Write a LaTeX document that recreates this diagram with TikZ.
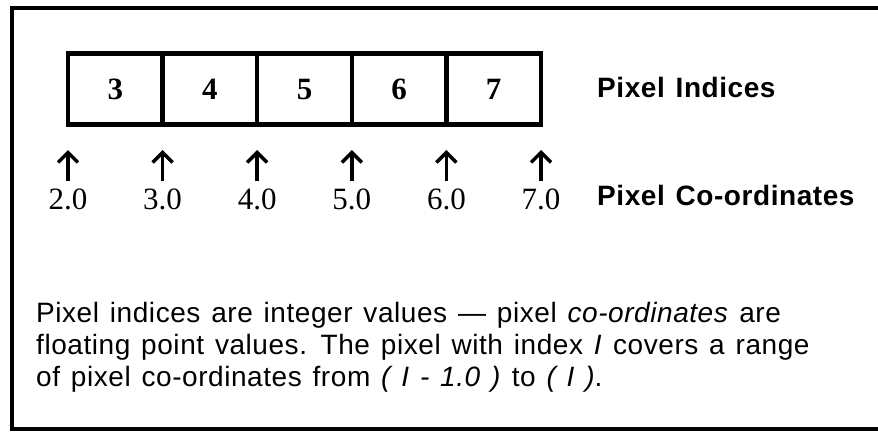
\documentclass[tikz,border=0pt]{standalone}
\usepackage{fontspec}
\setmainfont{Liberation Serif}
\setsansfont{Liberation Sans}
\newfontfamily\widesans{Liberation Sans}[LetterSpace=2,WordSpace=1.3]
\usetikzlibrary{arrows.meta}
\tikzset{
  frame/.style={line width=4pt},
  cellbox/.style={draw, line width=4.5pt, minimum width=94.6pt, minimum height=71pt,
    inner sep=0pt, font=\fontsize{31}{31}\selectfont\bfseries},
  tick/.style={line width=3.5pt, -{Straight Barb[length=10pt,width=20pt,line width=3.5pt]}},
  coordlabel/.style={font=\fontsize{31}{31}\selectfont, anchor=base},
  heading/.style={font=\widesans\bfseries\fontsize{28}{28}\selectfont, anchor=base west, inner sep=0pt},
  bodytext/.style={font=\widesans\fontsize{28}{28}\selectfont, anchor=base west, inner sep=0pt}
}
\begin{document}
\begin{tikzpicture}[x=1pt,y=-1pt]
  \useasboundingbox (0,0) rectangle (878,432);
  % outer frame, open on the right
  \draw[frame] (882,8) -- (12,8) -- (12,429) -- (882,429);

  % the row of pixel cells
  \foreach \i/\v in {0/3,1/4,2/5,3/6,4/7}{
    \node[cellbox] (c\i) at ({68+94.6*\i+47.3},89) {\v};
  }

  % coordinate arrows under the cell edges
  \foreach \i/\v in {0/2.0,1/3.0,2/4.0,3/5.0,4/6.0,5/7.0}{
    \coordinate (t\i) at ({68+94.6*\i},150);
    \coordinate (b\i) at ({68+94.6*\i},181);
    \draw[tick] (b\i) -- (t\i);
    \node[coordlabel] (l\i) at ({68+94.6*\i},209) {\v};
  }

  \node[heading] (hi) at (597,97) {Pixel Indices};
  \node[heading] (hc) at (597,205) {Pixel Co-ordinates};

  \node[bodytext] (p1) at (36,322) {Pixel indices are integer values — pixel \textit{co-ordinates} are};
  \node[bodytext] (p2) at (36,354) {floating point values. The pixel with index \textit{I} covers a range};
  \node[bodytext] (p3) at (36,386) {of pixel co-ordinates from \textit{( I - 1.0 )} to \textit{( I )}.};
\end{tikzpicture}
\end{document}
